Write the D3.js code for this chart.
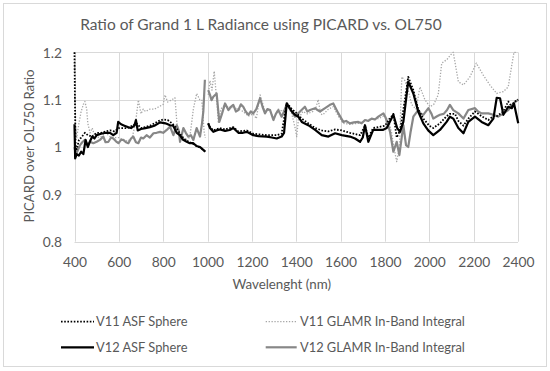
<!DOCTYPE html>
<html><head><meta charset="utf-8">
<script src="https://cdn.jsdelivr.net/npm/d3@7/dist/d3.min.js"></script>
<style>body{margin:0;background:#fff}svg{display:block}text{font-family:Lato,"Open Sans",sans-serif;fill:#595959}</style>
</head><body><svg id="c" width="550" height="371"></svg>
<script>
const title = "Ratio of Grand 1 L Radiance using PICARD vs. OL750";
const xTitle = "Wavelenght (nm)";
const yTitle = "PICARD over OL750 Ratio";
const xTicks = [400,600,800,1000,1200,1400,1600,1800,2000,2200,2400];
const yTicks = [0.8,0.9,1.0,1.1,1.2];
const yTickLabels = ["0.8","0.9","1","1.1","1.2"];
const seriesNames = ["V11 ASF Sphere","V11 GLAMR In-Band Integral","V12 ASF Sphere","V12 GLAMR In-Band Integral"];

const v11Asf = [[400,1.2],[402,1.1],[405,1.0],[410,0.995],[420,1.015],[430,1.02],[447,1.03],[460,1.025],[480,1.022],[500,1.03],[520,1.03],[540,1.033],[560,1.035],[580,1.033],[600,1.04],[620,1.04],[640,1.04],[660,1.045],[680,1.05],[700,1.04],[720,1.042],[740,1.045],[760,1.05],[780,1.055],[800,1.058],[820,1.057],[840,1.05],[860,1.04],[880,1.025],[900,1.015],[920,1.01],[940,1.005],[960,1.0],[980,0.995],[990,0.99],[996,null],
[1003,1.05],[1011,1.042],[1026,1.035],[1056,1.04],[1079,1.037],[1116,1.042],[1139,1.033],[1177,1.035],[1206,1.028],[1267,1.025],[1312,1.025],[1334,1.028],[1357,1.093],[1380,1.08],[1400,1.072],[1425,1.06],[1454,1.05],[1485,1.04],[1515,1.035],[1545,1.033],[1575,1.037],[1605,1.035],[1642,1.03],[1688,1.025],[1710,1.045],[1725,1.02],[1747,1.04],[1770,1.042],[1800,1.045],[1838,1.07],[1853,1.02],[1868,1.035],[1890,1.1],[1905,1.148],[1928,1.12],[1950,1.08],[1973,1.06],[2000,1.045],[2018,1.04],[2048,1.05],[2078,1.065],[2093,1.07],[2116,1.07],[2131,1.055],[2154,1.045],[2176,1.06],[2206,1.075],[2236,1.065],[2266,1.057],[2289,1.065],[2304,1.065],[2334,1.075],[2356,1.096],[2372,1.085],[2382,1.095],[2401,1.1]];

const v11Glamr = [[400,1.2],[403,1.05],[410,1.02],[420,1.05],[430,1.075],[440,1.09],[447,1.096],[455,1.08],[460,1.05],[470,1.03],[480,1.04],[490,1.025],[500,1.02],[520,1.022],[540,1.03],[560,1.022],[580,1.02],[600,1.02],[620,1.015],[640,1.012],[660,1.02],[675,1.05],[688,1.099],[700,1.07],[710,1.08],[720,1.075],[740,1.08],[760,1.08],[780,1.085],[800,1.09],[808,1.11],[820,1.095],[840,1.1],[853,1.104],[862,1.05],[870,1.03],[880,1.02],[900,1.015],[920,1.02],[936,1.08],[951,1.113],[965,1.1],[974,1.1],[985,1.03],[990,1.02],[996,null],
[1003,1.11],[1011,1.14],[1020,1.12],[1030,1.16],[1041,1.1],[1049,1.05],[1060,1.08],[1079,1.09],[1100,1.08],[1116,1.085],[1139,1.08],[1161,1.075],[1184,1.065],[1206,1.07],[1220,1.06],[1237,1.11],[1259,1.075],[1282,1.08],[1297,1.06],[1319,1.08],[1340,1.075],[1357,1.09],[1380,1.07],[1395,1.04],[1402,1.022],[1410,1.06],[1430,1.075],[1450,1.07],[1475,1.075],[1490,1.085],[1499,1.1],[1510,1.07],[1520,1.068],[1545,1.08],[1567,1.085],[1590,1.065],[1612,1.05],[1642,1.048],[1680,1.05],[1710,1.055],[1740,1.06],[1770,1.06],[1793,1.065],[1815,1.06],[1830,1.03],[1840,1.0],[1853,0.969],[1865,1.0],[1876,1.148],[1890,1.14],[1905,1.12],[1920,1.09],[1940,1.08],[1958,1.127],[1980,1.1],[2003,1.085],[2020,1.09],[2040,1.11],[2056,1.177],[2080,1.185],[2095,1.194],[2108,1.2],[2131,1.138],[2154,1.131],[2183,1.148],[2212,1.177],[2243,1.152],[2273,1.131],[2304,1.113],[2334,1.117],[2356,1.127],[2372,1.173],[2382,1.2],[2395,1.2]];

const v12Asf = [[400,1.048],[403,0.976],[410,0.985],[420,0.982],[430,0.99],[440,0.985],[450,1.015],[460,1.0],[470,1.012],[480,1.022],[490,1.018],[500,1.025],[520,1.028],[540,1.03],[560,1.03],[575,1.025],[590,1.03],[597,1.053],[610,1.048],[625,1.045],[640,1.042],[655,1.04],[670,1.045],[677,1.057],[685,1.035],[700,1.038],[720,1.04],[740,1.042],[760,1.045],[786,1.052],[810,1.05],[831,1.046],[845,1.045],[861,1.03],[875,1.025],[890,1.015],[906,1.011],[920,1.008],[936,1.008],[950,1.002],[966,1.0],[978,0.995],[990,0.99],[996,null],
[1003,1.05],[1011,1.04],[1026,1.032],[1040,1.035],[1056,1.037],[1079,1.034],[1100,1.036],[1116,1.04],[1139,1.03],[1160,1.03],[1177,1.032],[1206,1.025],[1230,1.023],[1267,1.022],[1290,1.02],[1312,1.018],[1334,1.022],[1345,1.03],[1357,1.092],[1380,1.075],[1394,1.068],[1409,1.064],[1425,1.053],[1454,1.046],[1485,1.036],[1515,1.025],[1545,1.022],[1575,1.029],[1605,1.025],[1642,1.022],[1665,1.018],[1688,1.011],[1700,1.02],[1710,1.046],[1725,1.011],[1747,1.036],[1770,1.036],[1790,1.036],[1808,1.04],[1838,1.068],[1855,1.04],[1868,1.032],[1883,1.053],[1905,1.138],[1928,1.113],[1950,1.075],[1973,1.05],[1995,1.035],[2018,1.025],[2048,1.036],[2078,1.053],[2093,1.064],[2108,1.06],[2131,1.04],[2154,1.029],[2176,1.053],[2206,1.064],[2236,1.053],[2266,1.046],[2289,1.06],[2304,1.104],[2319,1.103],[2334,1.068],[2356,1.085],[2372,1.082],[2382,1.092],[2401,1.05]];

const v12Glamr = [[400,1.0],[405,0.985],[412,0.99],[425,1.004],[435,1.01],[447,1.015],[458,1.005],[470,1.011],[485,1.008],[500,1.011],[515,1.015],[530,1.022],[540,1.01],[553,1.011],[565,1.02],[575,1.018],[587,1.012],[598,1.008],[610,1.015],[620,1.015],[632,1.01],[643,1.008],[655,1.018],[665,1.022],[677,1.01],[688,1.008],[700,1.02],[710,1.018],[725,1.025],[740,1.02],[756,1.029],[770,1.03],[786,1.032],[800,1.03],[816,1.036],[831,1.043],[846,1.025],[861,1.046],[870,1.035],[876,1.011],[891,1.04],[902,1.03],[913,1.022],[925,1.025],[936,1.015],[951,1.04],[966,1.022],[975,1.05],[981,1.075],[988,1.142],[996,null],
[1003,1.12],[1011,1.11],[1018,1.099],[1026,1.106],[1041,1.113],[1053,1.053],[1065,1.07],[1079,1.092],[1094,1.078],[1105,1.085],[1116,1.089],[1128,1.075],[1139,1.078],[1150,1.09],[1161,1.085],[1172,1.075],[1184,1.068],[1195,1.075],[1206,1.071],[1220,1.08],[1237,1.103],[1248,1.085],[1259,1.071],[1270,1.08],[1282,1.078],[1297,1.057],[1308,1.07],[1319,1.078],[1334,1.064],[1345,1.075],[1357,1.09],[1380,1.075],[1394,1.064],[1417,1.075],[1439,1.085],[1450,1.075],[1462,1.078],[1485,1.082],[1496,1.078],[1507,1.075],[1530,1.082],[1552,1.089],[1567,1.092],[1590,1.071],[1612,1.053],[1625,1.055],[1642,1.05],[1660,1.052],[1680,1.053],[1695,1.05],[1710,1.057],[1725,1.055],[1740,1.06],[1755,1.058],[1770,1.064],[1793,1.071],[1801,1.064],[1812,1.05],[1823,1.032],[1838,0.99],[1853,1.011],[1865,0.983],[1883,1.046],[1895,1.004],[1905,1.0],[1915,1.03],[1928,1.064],[1950,1.078],[1962,1.07],[1973,1.068],[1996,1.082],[2010,1.07],[2018,1.06],[2035,1.065],[2048,1.068],[2065,1.07],[2080,1.078],[2093,1.089],[2108,1.078],[2131,1.071],[2154,1.06],[2176,1.078],[2206,1.082],[2220,1.075],[2236,1.071],[2266,1.071],[2289,1.068],[2311,1.064],[2334,1.071],[2356,1.078],[2379,1.092],[2401,1.1]];

const svg = d3.select("#c");
const W = 550, H = 371;
const m = {left:74.5, right:518, top:52.3, bottom:241.7};
const x = d3.scaleLinear().domain([400,2400]).range([m.left, m.right]);
const y = d3.scaleLinear().domain([0.8,1.2]).range([m.bottom, m.top]);

svg.append("rect").attr("x",3.5).attr("y",3.5).attr("width",543).attr("height",363)
  .attr("fill","#fff").attr("stroke","#d9d9d9").attr("stroke-width",1);

function fit(sel, target){
  const w = sel.node().getComputedTextLength();
  const fs = parseFloat(sel.attr("font-size"));
  sel.attr("font-size", (fs*target/w).toFixed(2));
}

// grid
const g = svg.append("g");
g.selectAll(".hg").data(yTicks).join("line")
  .attr("x1",m.left).attr("x2",m.right)
  .attr("y1",d=>Math.round(y(d))+0.5).attr("y2",d=>Math.round(y(d))+0.5)
  .attr("stroke","#d9d9d9");
g.selectAll(".vg").data(xTicks).join("line")
  .attr("y1",m.top).attr("y2",m.bottom)
  .attr("x1",d=>Math.round(x(d))+0.5).attr("x2",d=>Math.round(x(d))+0.5)
  .attr("stroke","#d9d9d9");

// axes labels via d3 axes
const xAxis = svg.append("g").attr("transform",`translate(0,${m.bottom})`)
  .call(d3.axisBottom(x).tickValues(xTicks).tickSize(0).tickPadding(0).tickFormat(d3.format("d")));
xAxis.select(".domain").remove();
xAxis.selectAll("text").attr("dy",null).attr("y",25).attr("font-size",14).attr("fill","#595959");
const yAxis = svg.append("g").attr("transform",`translate(${m.left},0)`)
  .call(d3.axisLeft(y).tickValues(yTicks).tickSize(0).tickPadding(0).tickFormat((d,i)=>yTickLabels[i]));
yAxis.select(".domain").remove();
yAxis.selectAll("text").attr("x",-12.5).attr("dy","0.35em").attr("font-size",14).attr("fill","#595959");
// size fitting from a reference label
{
  const t = xAxis.selectAll("text").filter(d=>d===1000);
  const w = t.node().getComputedTextLength();
  const fs = 14*32/w;
  xAxis.selectAll("text").attr("font-size",fs.toFixed(2));
  yAxis.selectAll("text").attr("font-size",fs.toFixed(2));
}
svg.selectAll(".tick text").style("font-family","Lato, sans-serif");

// title
const tt = svg.append("text").attr("x",261).attr("y",29.5).attr("text-anchor","middle").attr("font-size",16).text(title);
fit(tt,362);
const xt = svg.append("text").attr("x",281.7).attr("y",289).attr("text-anchor","middle").attr("font-size",13).text(xTitle);
fit(xt,98.7);
const yt = svg.append("text").attr("transform","translate(34,146) rotate(-90)").attr("text-anchor","middle").attr("font-size",13).text(yTitle);
fit(yt,153);

// lines
const clip = svg.append("clipPath").attr("id","pc").append("rect")
  .attr("x",m.left-2).attr("y",m.top-1).attr("width",m.right-m.left+4).attr("height",m.bottom-m.top+2);
const line = d3.line().defined(d=>d[1]!=null).x(d=>x(d[0])).y(d=>y(d[1]));
const styles = [
  {data:v11Glamr, stroke:"#a6a6a6", w:1.3, dash:"1.3,1.6"},
  {data:v12Glamr, stroke:"#878787", w:2.2, dash:null},
  {data:v11Asf, stroke:"#000", w:1.8, dash:"1.6,1.6"},
  {data:v12Asf, stroke:"#000", w:2.2, dash:null}
];
const pl = svg.append("g").attr("clip-path","url(#pc)");
styles.forEach(s=>{
  pl.append("path").attr("d",line(s.data)).attr("fill","none").attr("stroke",s.stroke)
    .attr("stroke-width",s.w).attr("stroke-dasharray",s.dash).attr("stroke-linejoin","round");
});

// legend
const leg = [
  {name:seriesNames[0], x1:61, x2:94, tx:96, y:321.7, stroke:"#000", w:1.8, dash:"1.6,1.6"},
  {name:seriesNames[1], x1:265.7, x2:296.7, tx:300, y:321.7, stroke:"#a6a6a6", w:1.3, dash:"1.3,1.6"},
  {name:seriesNames[2], x1:61, x2:94, tx:96, y:347.3, stroke:"#000", w:2.2, dash:null},
  {name:seriesNames[3], x1:265.7, x2:296.7, tx:300, y:347.3, stroke:"#878787", w:2.2, dash:null}
];
let legFs = null;
leg.forEach((l,i)=>{
  svg.append("line").attr("x1",l.x1).attr("x2",l.x2).attr("y1",l.y).attr("y2",l.y)
    .attr("stroke",l.stroke).attr("stroke-width",l.w).attr("stroke-dasharray",l.dash);
  const t = svg.append("text").attr("x",l.tx).attr("y",l.y).attr("dy","0.35em").attr("font-size",13).text(l.name);
  if(i===1){ fit(t,165); legFs = t.attr("font-size"); }
});
svg.selectAll("text").filter(function(){return this.textContent===seriesNames[0]||this.textContent===seriesNames[2]||this.textContent===seriesNames[3];}).attr("font-size",legFs);
</script></body></html>
